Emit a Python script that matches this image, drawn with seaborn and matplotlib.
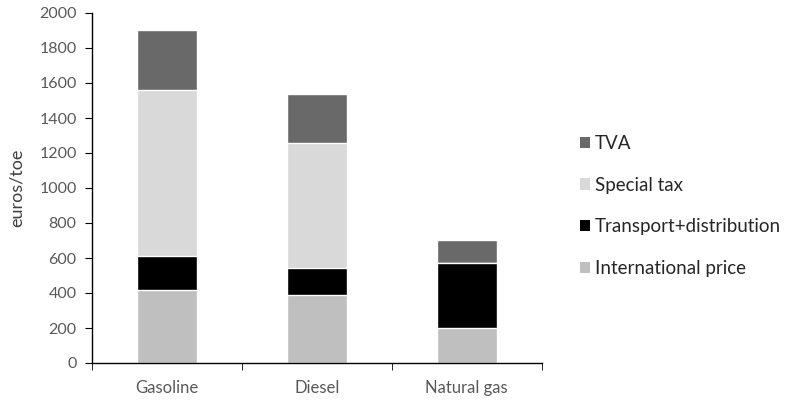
import matplotlib
matplotlib.use("Agg")
import matplotlib.pyplot as plt
from matplotlib.patches import Patch
import seaborn as sns
import pandas as pd
import numpy as np

categories = ["Gasoline", "Diesel", "Natural gas"]
international_price = [415, 391, 200]
transport_distribution = [199, 152, 374]
special_tax = [948, 716, 0]
tva = [343, 276, 131]

layers = ["International price", "Transport+distribution", "Special tax", "TVA"]
colors = {"International price": "#bfbfbf", "Transport+distribution": "#000000",
          "Special tax": "#d9d9d9", "TVA": "#696969"}
values = [international_price, transport_distribution, special_tax, tva]

sns.set_style("white")
plt.rcParams['font.family'] = ['Lato', 'DejaVu Sans']

fig = plt.figure(figsize=(7.92, 4.0), dpi=100)
ax = fig.add_axes([0.116, 0.0925, 0.568, 0.875])

cum = np.cumsum(np.array(values), axis=0)
for i in range(len(layers) - 1, -1, -1):
    df = pd.DataFrame({"cat": categories, "val": cum[i]})
    sns.barplot(data=df, x="cat", y="val", color=colors[layers[i]], width=0.4,
                saturation=1, ax=ax, order=categories)

ax.set_xlim(-0.5, 2.5)
ax.set_ylim(0, 2000)
ax.set_yticks(range(0, 2001, 200))
ax.set_xlabel("")
ax.set_ylabel("euros/toe", fontsize=13, color="#404040")
ax.yaxis.set_label_coords(-0.15, 0.5)
for s in ["top", "right"]:
    ax.spines[s].set_visible(False)
for s in ["left", "bottom"]:
    ax.spines[s].set_color("#000000")
    ax.spines[s].set_linewidth(1.0)
ax.tick_params(axis="y", which="major", direction="out", length=5, left=True,
               labelsize=11.5, labelcolor="#595959", color="#000000", pad=6)
ax.tick_params(axis="x", which="major", length=0, labelsize=12, labelcolor="#595959", pad=12)
ax.set_xticks([-0.5, 0.5, 1.5, 2.5], minor=True)
ax.tick_params(axis="x", which="minor", direction="out", length=5, bottom=True, color="#000000")

handles = [Patch(facecolor=colors[l], edgecolor="none") for l in ["TVA", "Special tax", "Transport+distribution", "International price"]]
labels = ["TVA", "Special tax", "Transport+distribution", "International price"]
fig.legend(handles, labels, loc="center left", bbox_to_anchor=(0.711, 0.485), frameon=False,
           fontsize=13.5, handlelength=0.55, handleheight=0.55, handletextpad=0.25, labelspacing=1.32)

fig.savefig("out.png", dpi=100)
